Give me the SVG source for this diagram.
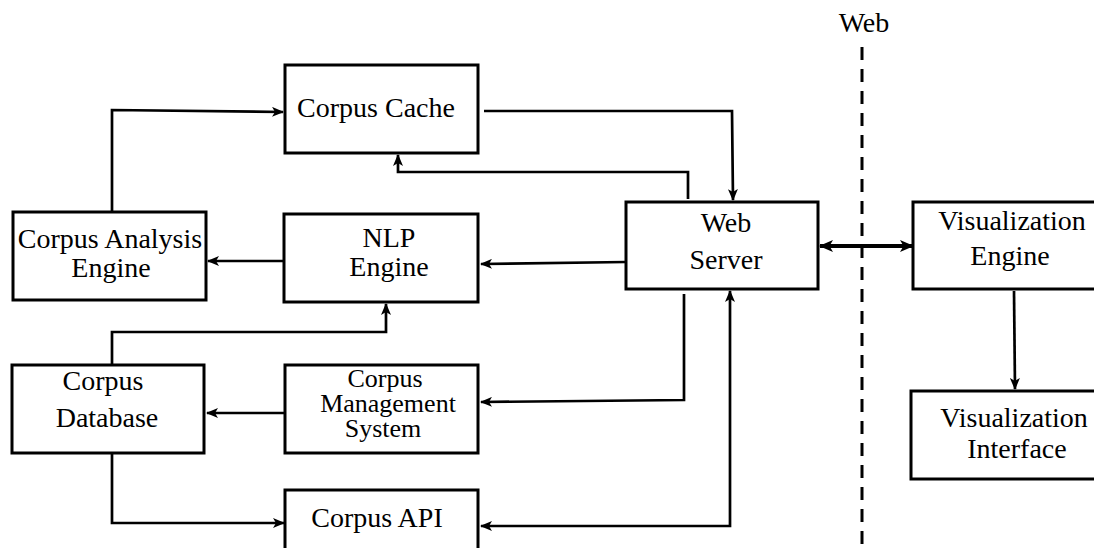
<svg xmlns="http://www.w3.org/2000/svg" width="1094" height="548" viewBox="0 0 1094 548">
  <style>
    .box { fill: #ffffff; stroke: #000000; stroke-width: 3; }
    .lbl { font-family: "Liberation Serif", "DejaVu Serif", serif; font-size: 28px; fill: #000000; text-anchor: middle; }
    .small { font-size: 26px; }
    .wire { fill: none; stroke: #000000; stroke-width: 2.7; stroke-linejoin: miter; }
    .thick { fill: none; stroke: #000000; stroke-width: 4; }
    .dash { fill: none; stroke: #000000; stroke-width: 3; stroke-dasharray: 13 9; }
  </style>
  <defs>
    <marker id="tip" viewBox="0 0 12 10" refX="11" refY="5" markerWidth="12" markerHeight="10" markerUnits="userSpaceOnUse" orient="auto-start-reverse">
      <path d="M0,0 L12,5 L0,10 L3,5 z" fill="#000000"/>
    </marker>
    <marker id="tipBig" viewBox="0 0 14 12" refX="13" refY="6" markerWidth="14" markerHeight="12" markerUnits="userSpaceOnUse" orient="auto-start-reverse">
      <path d="M0,0 L14,6 L0,12 L3.5,6 z" fill="#000000"/>
    </marker>
  </defs>

  <!-- web boundary -->
  <g id="web-boundary">
    <text class="lbl" x="864" y="32">Web</text>
    <line class="dash" x1="862" y1="47" x2="862" y2="548"/>
  </g>

  <!-- connectors -->
  <g id="connectors">
    <!-- Corpus Cache -> Web Server -->
    <path class="wire" d="M484,111 L732,111 L733,200" marker-end="url(#tip)"/>
    <!-- Web Server -> Corpus Cache -->
    <path class="wire" d="M688,199 L688,172 L398,172 L398,155" marker-end="url(#tip)"/>
    <!-- Corpus Analysis Engine -> Corpus Cache -->
    <path class="wire" d="M112,212 L112,110 L283,112" marker-end="url(#tip)"/>
    <!-- NLP Engine -> Corpus Analysis Engine -->
    <path class="wire" d="M284,261 L208,261" marker-end="url(#tip)"/>
    <!-- Web Server -> NLP Engine -->
    <path class="wire" d="M626,262 L481,264" marker-end="url(#tip)"/>
    <!-- Corpus Database -> NLP Engine -->
    <path class="wire" d="M112,365 L112,332 L386,332 L386,304" marker-end="url(#tip)"/>
    <!-- Corpus Management System -> Corpus Database -->
    <path class="wire" d="M284,413 L207,413" marker-end="url(#tip)"/>
    <!-- Corpus Database -> Corpus API -->
    <path class="wire" d="M112,453 L112,523 L284,523" marker-end="url(#tip)"/>
    <!-- Web Server -> Corpus Management System -->
    <path class="wire" d="M684,294 L684,400 L481,402" marker-end="url(#tip)"/>
    <!-- Corpus API <-> Web Server -->
    <path class="wire" d="M481,526 L730,526 L730,291" marker-start="url(#tip)" marker-end="url(#tip)"/>
    <!-- Web Server <-> Visualization Engine -->
    <path class="thick" d="M820,246 L913,246" marker-start="url(#tipBig)" marker-end="url(#tipBig)"/>
    <!-- Visualization Engine -> Visualization Interface -->
    <path class="wire" d="M1014,291 L1015,389" marker-end="url(#tip)"/>
  </g>

  <!-- nodes -->
  <g id="corpus-cache">
    <rect class="box" x="285" y="65" width="193" height="88"/>
    <text class="lbl" x="376" y="117">Corpus Cache</text>
  </g>
  <g id="corpus-analysis-engine">
    <rect class="box" x="13" y="212" width="193" height="88"/>
    <text class="lbl" x="110" y="248">Corpus Analysis</text>
    <text class="lbl" x="111" y="277">Engine</text>
  </g>
  <g id="nlp-engine">
    <rect class="box" x="284" y="214" width="194" height="88"/>
    <text class="lbl" x="389" y="247">NLP</text>
    <text class="lbl" x="389" y="276">Engine</text>
  </g>
  <g id="web-server">
    <rect class="box" x="626" y="202" width="192" height="87"/>
    <text class="lbl" x="726" y="232">Web</text>
    <text class="lbl" x="726" y="269">Server</text>
  </g>
  <g id="visualization-engine">
    <rect class="box" x="913" y="202" width="194" height="87"/>
    <text class="lbl" x="1012" y="230">Visualization</text>
    <text class="lbl" x="1010" y="265">Engine</text>
  </g>
  <g id="visualization-interface">
    <rect class="box" x="911" y="391" width="196" height="88"/>
    <text class="lbl" x="1014" y="427">Visualization</text>
    <text class="lbl" x="1017" y="458">Interface</text>
  </g>
  <g id="corpus-database">
    <rect class="box" x="12" y="365" width="192" height="88"/>
    <text class="lbl" x="103" y="390">Corpus</text>
    <text class="lbl" x="107" y="427">Database</text>
  </g>
  <g id="corpus-management-system">
    <rect class="box" x="285" y="365" width="193" height="88"/>
    <text class="lbl small" x="385" y="387">Corpus</text>
    <text class="lbl small" x="388" y="412">Management</text>
    <text class="lbl small" x="383" y="437">System</text>
  </g>
  <g id="corpus-api">
    <rect class="box" x="285" y="490" width="193" height="88"/>
    <text class="lbl" x="377" y="527">Corpus API</text>
  </g>
</svg>
